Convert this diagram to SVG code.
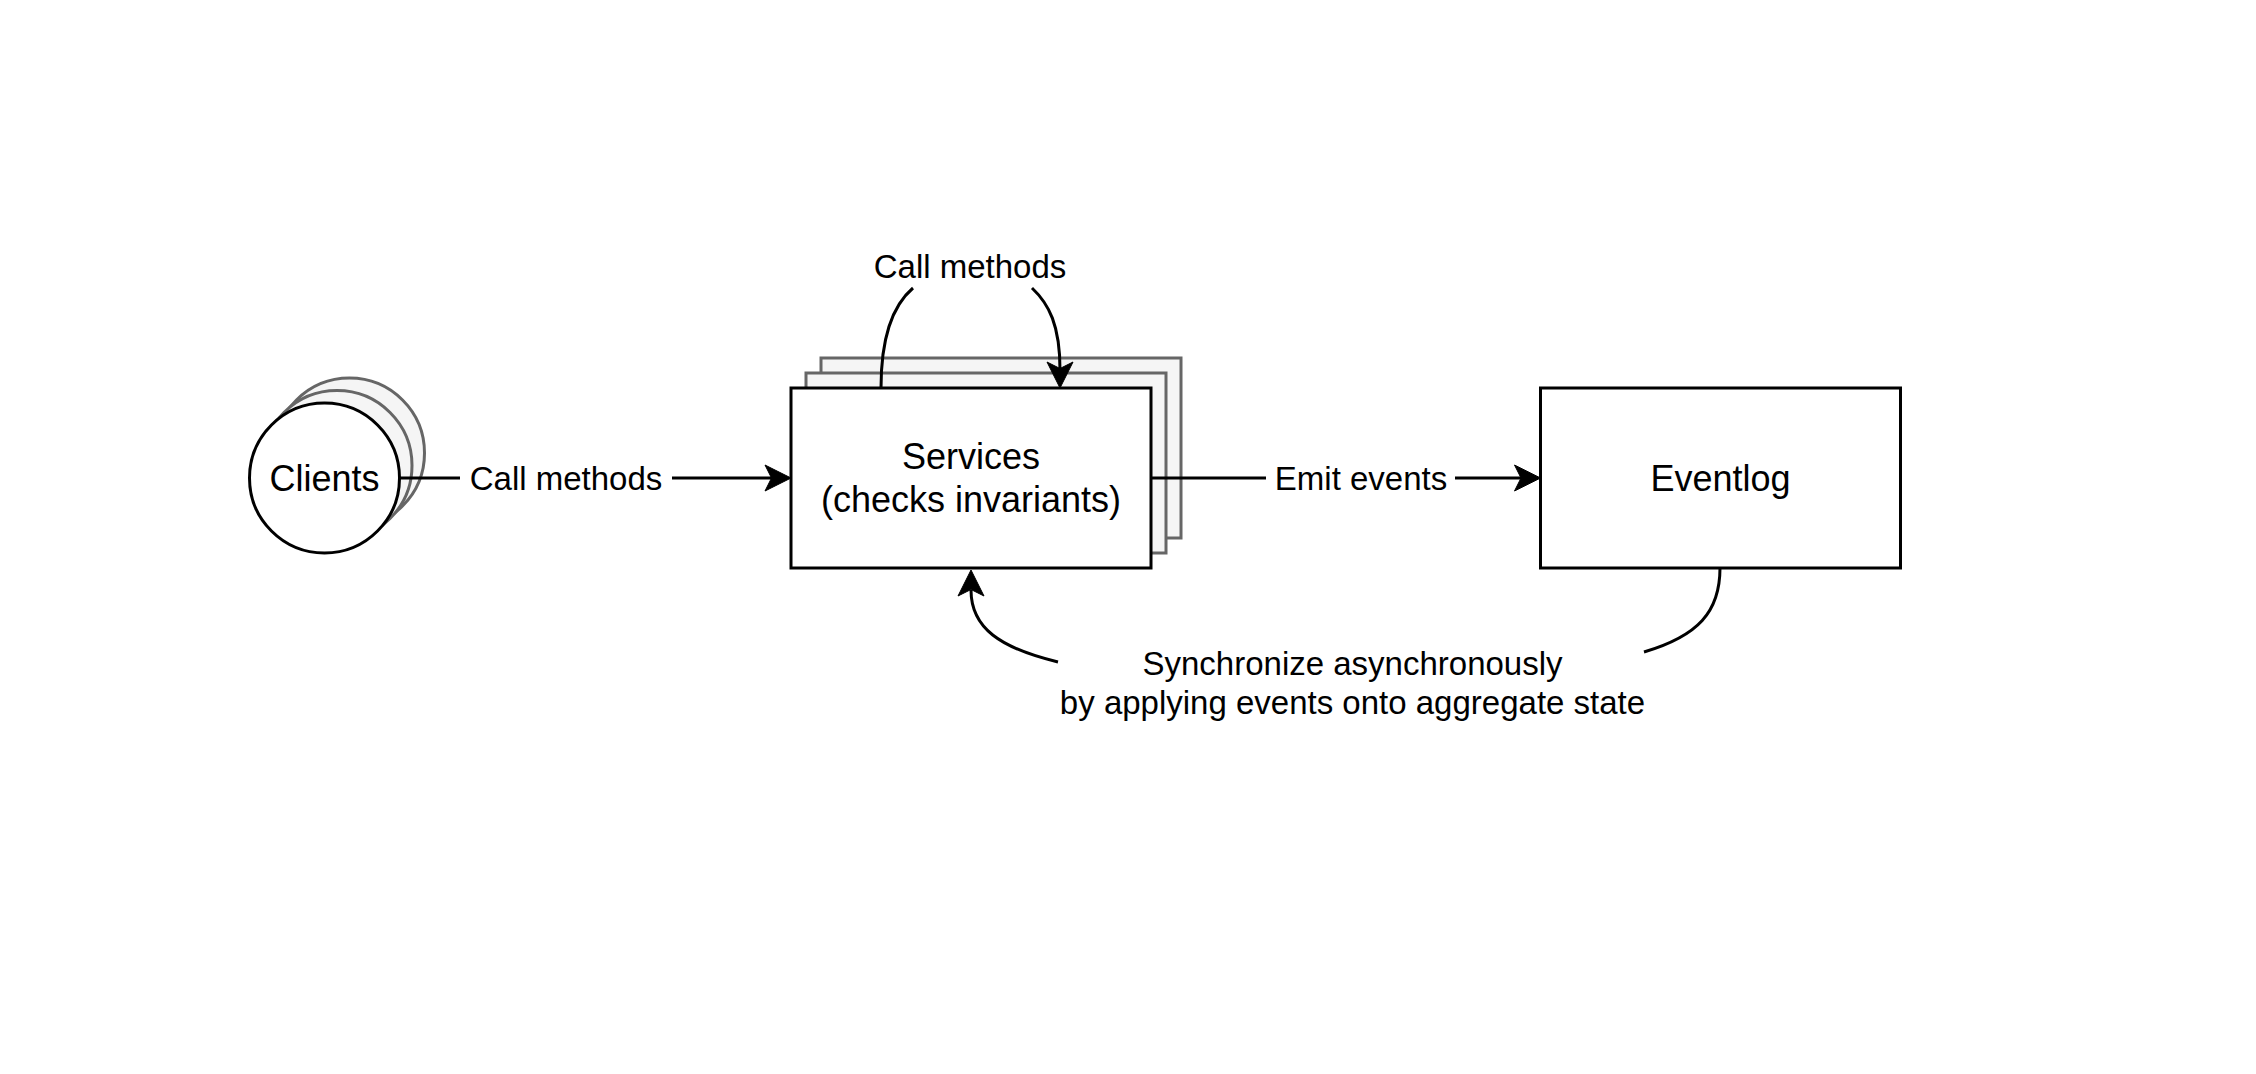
<svg xmlns="http://www.w3.org/2000/svg" xmlns:xlink="http://www.w3.org/1999/xlink" width="2256" height="1074" viewBox="0 0 2256 1074">
<style>
.bg{fill:#ffffff}
.front{fill:#ffffff;stroke:#000000;stroke-width:3}
.back{fill:#f5f5f5;stroke:#666666;stroke-width:3}
.edge{fill:none;stroke:#000000;stroke-width:3}
.node-text{font-family:"Liberation Sans",Arial,Helvetica,sans-serif;font-size:36px;fill:#000000;text-anchor:middle}
.edge-text{font-family:"Liberation Sans",Arial,Helvetica,sans-serif;font-size:33px;fill:#000000;text-anchor:middle}
</style>
<defs>
<path id="arrowhead" d="M0,0 L-26,-13 L-19.5,0 L-26,13 Z" fill="#000000" stroke="#000000" stroke-width="1"/>
</defs>
<rect class="bg" x="0" y="0" width="2256" height="1074"/>
<g id="node-clients">
<circle class="back" cx="349.5" cy="453" r="75"/>
<circle class="back" cx="337" cy="465.5" r="75"/>
<circle class="front" cx="324.5" cy="478" r="75"/>
<text class="node-text" x="324.5" y="490.5">Clients</text>
</g>
<g id="node-services">
<rect class="back" x="821" y="358" width="360" height="180"/>
<rect class="back" x="806" y="373" width="360" height="180"/>
<rect class="front" x="791" y="388" width="360" height="180"/>
<text class="node-text" x="971" y="469">Services</text>
<text class="node-text" x="971" y="512">(checks invariants)</text>
</g>
<g id="node-eventlog">
<rect class="front" x="1540.5" y="388" width="360" height="180"/>
<text class="node-text" x="1720.5" y="490.5">Eventlog</text>
</g>
<g id="connectors">
<g id="edge-clients-services">
<path class="edge" d="M399.5,478 H460 M672,478 H773"/>
<use xlink:href="#arrowhead" transform="translate(791,478)"/>
<text class="edge-text" x="566" y="489.5">Call methods</text>
</g>
<g id="edge-services-self">
<path class="edge" d="M881,388 C881,335 893,305 913,288"/>
<path class="edge" d="M1032,288 C1049,304 1060,325 1060,370"/>
<use xlink:href="#arrowhead" transform="translate(1060,388) rotate(90)"/>
<text class="edge-text" x="970" y="277.5">Call methods</text>
</g>
<g id="edge-services-eventlog">
<path class="edge" d="M1151,478 H1266 M1455,478 H1522"/>
<use xlink:href="#arrowhead" transform="translate(1540.5,478)"/>
<text class="edge-text" x="1361" y="489.5">Emit events</text>
</g>
<g id="edge-eventlog-services">
<path class="edge" d="M1720,568 C1720,612 1698,636 1644,652"/>
<path class="edge" d="M1058,662 C1000,648 971,628 971,590"/>
<use xlink:href="#arrowhead" transform="translate(971,570) rotate(-90)"/>
<text class="edge-text" x="1352.5" y="674.5">Synchronize asynchronously</text>
<text class="edge-text" x="1352.5" y="713.5">by applying events onto aggregate state</text>
</g>
</g>
</svg>
